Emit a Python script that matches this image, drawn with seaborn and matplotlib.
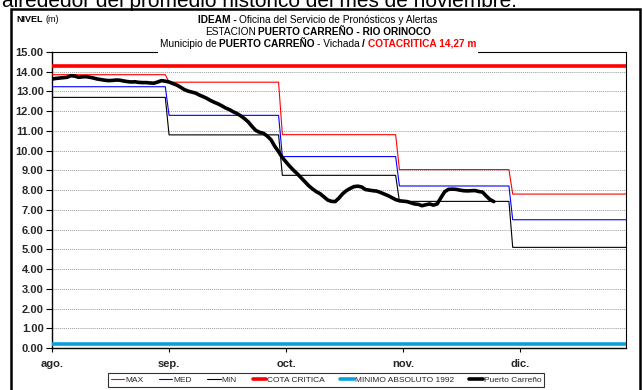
import numpy as np
import pandas as pd
import matplotlib
matplotlib.use("Agg")
import matplotlib.pyplot as plt
from matplotlib.lines import Line2D
from matplotlib.patches import Rectangle
import seaborn as sns

# ---- data -------------------------------------------------------------
month_labels = ["ago.", "sep.", "oct.", "nov.", "dic."]
month_days = [31, 30, 31, 30, 31]          # Aug .. Dec
tick_days = [0, 31, 62, 93, 124]

max_month = [13.85, 13.47, 10.81, 9.04, 7.80]
med_month = [13.24, 11.79, 9.70, 8.21, 6.50]
min_month = [12.70, 10.80, 8.75, 7.43, 5.10]
cota_critica = 14.27
minimo_1992 = 0.20

# daily stage, Puerto Carreño (1 Aug onwards)
nivel_aug = [13.63, 13.66, 13.68, 13.70, 13.72, 13.80, 13.78, 13.72, 13.74, 13.75,
             13.72, 13.68, 13.63, 13.60, 13.57, 13.55, 13.56, 13.58, 13.57, 13.53,
             13.50, 13.48, 13.49, 13.46, 13.45, 13.45, 13.43, 13.42, 13.48, 13.55,
             13.52]
nivel_sep = [13.48, 13.40, 13.33, 13.22, 13.10, 13.02, 12.97, 12.92, 12.82, 12.74,
             12.65, 12.54, 12.45, 12.37, 12.27, 12.16, 12.08, 11.97, 11.88, 11.76,
             11.62, 11.45, 11.22, 11.02, 10.93, 10.88, 10.74, 10.55, 10.22, 9.95]
nivel_oct = [9.65, 9.42, 9.20, 9.00, 8.82, 8.62, 8.42, 8.22, 8.06, 7.92,
             7.82, 7.66, 7.50, 7.43, 7.42, 7.60, 7.82, 7.98, 8.09, 8.18,
             8.20, 8.16, 8.03, 8.00, 7.97, 7.95, 7.88, 7.80, 7.72, 7.62,
             7.52]
nivel_nov = [7.46, 7.44, 7.42, 7.36, 7.30, 7.28, 7.21, 7.26, 7.30, 7.24,
             7.30, 7.62, 7.92, 8.04, 8.05, 8.04, 8.00, 7.97, 7.96, 7.97,
             7.98, 7.93, 7.90, 7.70, 7.52, 7.42]

# ---- tables -----------------------------------------------------------
n_days = sum(month_days)
day = np.arange(n_days)
ref = pd.DataFrame({
    "dia": day,
    "MAX": np.repeat(max_month, month_days),
    "MED": np.repeat(med_month, month_days),
    "MIN": np.repeat(min_month, month_days),
    "COTA CRITICA": np.full(n_days, cota_critica),
    "MINIMO ABSOLUTO 1992": np.full(n_days, minimo_1992),
})
nivel = nivel_aug + nivel_sep + nivel_oct + nivel_nov
obs = pd.DataFrame({"dia": np.arange(len(nivel)), "nivel": nivel})

# ---- figure -----------------------------------------------------------
sns.set_theme(style="white")
plt.rcParams["font.family"] = ["Liberation Sans", "DejaVu Sans"]

W, H = 643, 390
fig = plt.figure(figsize=(W / 100, H / 100), dpi=100)
ax = fig.add_axes([52 / W, 1 - 348 / H, (626 - 52) / W, (348 - 52) / H])

styles = [
    ("MAX", "#FF0000", 0.8),
    ("MED", "#0000FF", 0.8),
    ("MIN", "#000000", 0.8),
    ("COTA CRITICA", "#FF0000", 2.6),
    ("MINIMO ABSOLUTO 1992", "#0AA0DC", 2.6),
]
for name, col, lw in styles:
    sns.lineplot(data=ref, x="dia", y=name, ax=ax, color=col, linewidth=lw,
                 legend=False, zorder=3)
sns.lineplot(data=obs, x="dia", y="nivel", ax=ax, color="black", linewidth=2.6,
             legend=False, zorder=4)

ax.set_xlim(0, n_days - 1)
ax.set_ylim(0, 15)
ax.set_yticks(np.arange(0, 16, 1))
ax.set_yticklabels([f"{v:.2f}" for v in np.arange(0, 16, 1)],
                   fontsize=8, fontweight="bold")
ax.set_xticks(tick_days)
ax.set_xticklabels(month_labels, fontsize=8, fontweight="bold")
ax.set_xlabel("")
ax.set_ylabel("")
ax.tick_params(axis="y", direction="out", length=4, width=0.8, color="black", pad=2, left=True)
ax.tick_params(axis="x", direction="out", length=3, width=0.8, color="black", pad=5, bottom=True)
ax.yaxis.grid(True, color="#9A9A9A", linestyle=(0, (1, 1)), linewidth=0.7)
ax.xaxis.grid(False)
for s in ax.spines.values():
    s.set_color("black")
    s.set_linewidth(0.8)
ax.spines["left"].set_linewidth(1.0)
ax.spines["bottom"].set_linewidth(1.0)

# outer frame
fig.patches.append(Rectangle((11 / W, -0.02), (640 - 11) / W, 1 - 9 / H + 0.02,
                             transform=fig.transFigure, fill=False,
                             edgecolor="black", linewidth=1.8, zorder=0))

# headline text running above the frame
fig.text(2 / W, 1 - 7 / H, "alrededor del promedio histórico del mes de noviembre.",
         fontsize=15, color="black", va="baseline", ha="left")

renderer = fig.canvas.get_renderer()


def rich_line(pieces, cx, cy, size, gap=2.5):
    """Draw a centred line made of (text, weight, colour) pieces; cx, cy in px."""
    objs = []
    for txt, wt, col in pieces:
        objs.append(fig.text(0, 0, txt, fontsize=size, fontweight=wt, color=col,
                             va="center", ha="left", zorder=10))
    widths = [o.get_window_extent(renderer).width for o in objs]
    total = sum(widths) + gap * (len(objs) - 1)
    x = cx - total / 2
    for o, w in zip(objs, widths):
        o.set_position((x / W, 1 - cy / H))
        x += w + gap
    return cx - total / 2, cx + total / 2


cx_title = 318
rich_line([("IDEAM -", "bold", "black"),
           ("Oficina del Servicio de Pronósticos y Alertas", "normal", "black")],
          cx_title, 20, 7.3)
rich_line([("ESTACION", "normal", "black"),
           ("PUERTO CARREÑO - RIO ORINOCO", "bold", "black")],
          cx_title, 32, 7.3)
x0, x1 = rich_line([("Municipio de", "normal", "black"),
                    ("PUERTO CARREÑO", "bold", "black"),
                    ("- Vichada", "normal", "black"),
                    ("/", "bold", "black"),
                    ("COTACRITICA 14,27 m", "bold", "#FF0000")],
                   cx_title, 44, 7.3)
fig.patches.append(Rectangle(((x0 - 2) / W, 1 - 55 / H), (x1 - x0 + 4) / W, 17 / H,
                             transform=fig.transFigure, facecolor="white",
                             edgecolor="none", zorder=5))

rich_line([("NIVEL", "bold", "black"), ("(m)", "normal", "black")], 38, 20, 6.5, gap=2.5)

# legend
handles = [Line2D([], [], color=c, linewidth=lw) for _, c, lw in styles]
handles.append(Line2D([], [], color="black", linewidth=2.6))
labels = [s[0] for s in styles] + ["Puerto Carreño"]
leg = fig.legend(handles, labels, loc="center", bbox_to_anchor=(326 / W, 1 - 380 / H),
                 ncol=6, fontsize=6.0, frameon=True, fancybox=False,
                 edgecolor="black", handlelength=1.6, handletextpad=0.1,
                 columnspacing=1.9, borderpad=0.35)
leg.get_frame().set_linewidth(0.8)

fig.savefig("out.png", dpi=100)
